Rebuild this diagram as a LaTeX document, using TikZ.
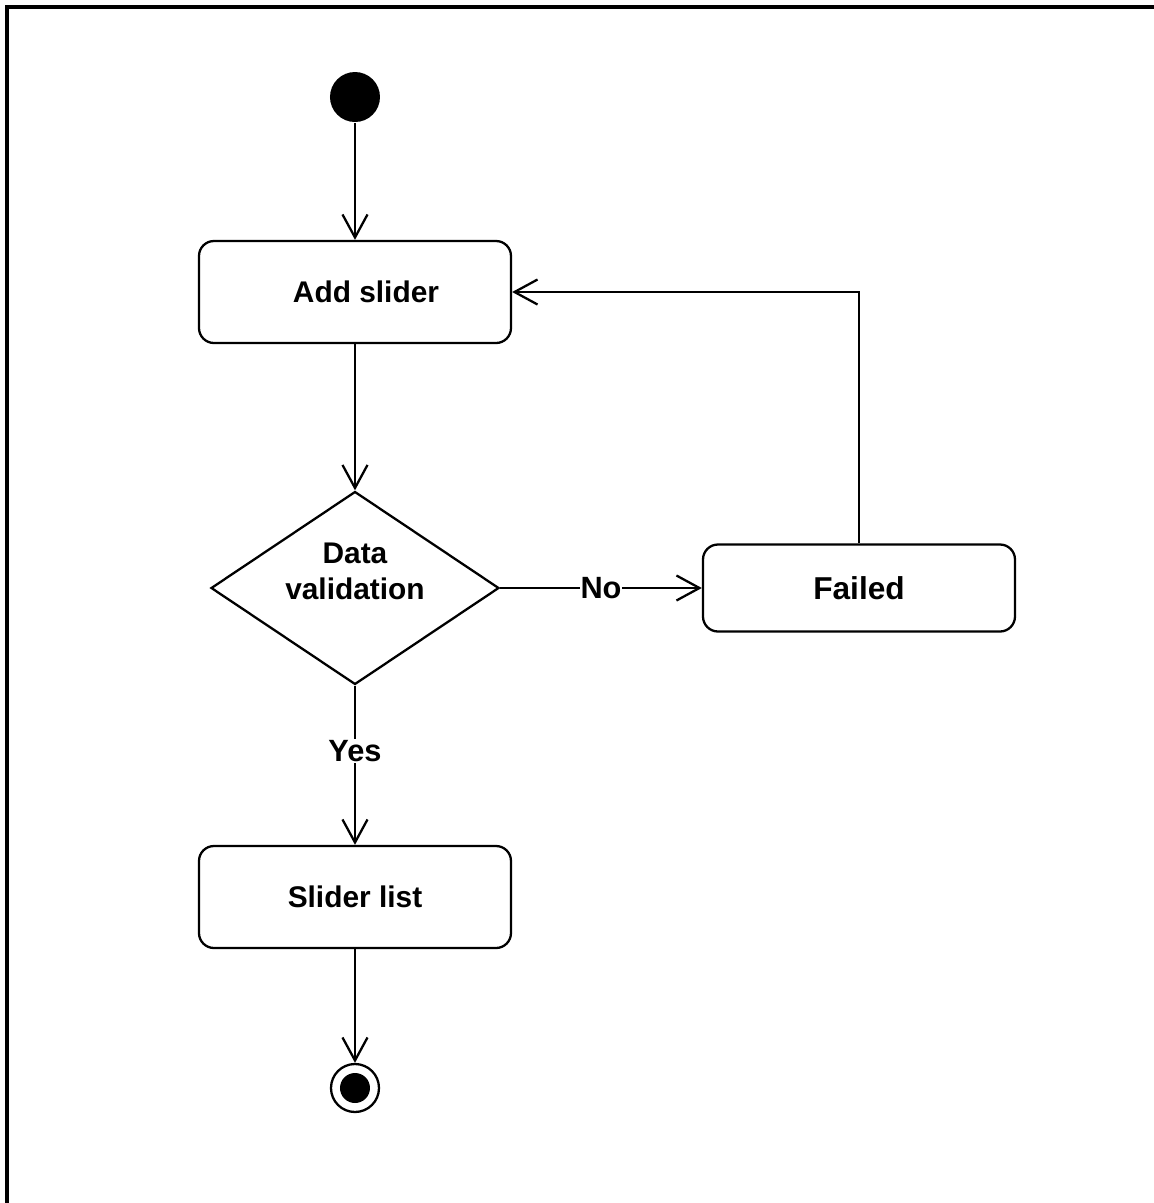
\documentclass[tikz,border=0pt]{standalone}
\usepackage{fontspec}
\setmainfont{Liberation Sans}
\usetikzlibrary{shapes.geometric,arrows.meta}

\begin{document}
\begin{tikzpicture}[-,>={Straight Barb[length=0.46cm,width=0.5cm]},line width=1.3pt,node distance=3cm,
    start node/.style={circle,fill,inner sep=0pt,minimum size=1cm},
    end node/.style={circle,draw,inner sep=0pt,minimum size=0.96cm,path picture={\fill (path picture bounding box.center) circle (0.3cm);}},
    act node/.style={rectangle,rounded corners=0.3cm,draw,minimum width=6.24cm,minimum height=2.04cm,font=\bfseries\fontsize{17}{20}\selectfont},
    decision node/.style={diamond,draw,aspect=1.5,inner sep=0pt,minimum width=5.76cm,minimum height=3.86cm},
    guard/.style={fill=white,inner sep=0.5pt,font=\bfseries\fontsize{17.5}{20}\selectfont}]
    \useasboundingbox (-7.1,1.94) rectangle (15.98,-22.12);
    \clip (-7.1,1.94) rectangle (15.98,-22.12);
    \draw[line width=2pt] (-6.96,1.8) rectangle (18,-25);

    \node[start node] (start) {};
    \node[act node] (add) [below of=start, node distance=3.9cm] {\hspace*{0.44cm}Add slider};
    \node[decision node] (valid) [below of=add, node distance=5.92cm] {};
    \node[font=\bfseries\fontsize{17}{20.4}\selectfont,align=center] (validtext) [above of=valid, node distance=0.34cm] {Data\\validation};
    \node[act node] (list) [below of=valid, node distance=6.18cm] {Slider list};
    \node[end node] (end) [below of=list, node distance=3.82cm] {};
    \node[act node,minimum height=1.74cm,font=\bfseries\fontsize{18}{21}\selectfont] (failed) [right of=valid, node distance=10.08cm] {Failed};

    \path[->]
        (start) edge (add)
        (add) edge (valid)
        (valid) edge node[guard] {No} (failed)
        (valid) edge node[guard,pos=0.41] {Yes} (list)
        (list) edge (end)
        ;
    \draw[->] (failed) |- (add);
\end{tikzpicture}
\end{document}
